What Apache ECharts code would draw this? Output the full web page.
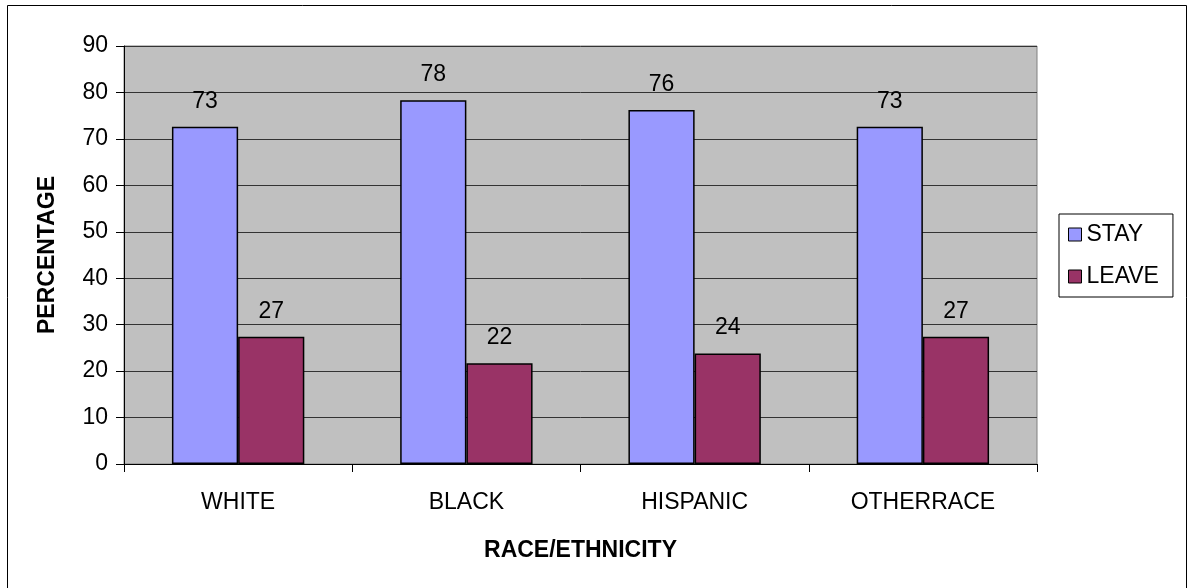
<!DOCTYPE html>
<html>
<head>
<meta charset="utf-8">
<script src="https://cdn.jsdelivr.net/npm/echarts@6/dist/echarts.min.js"></script>
<style>
html,body{margin:0;padding:0;background:#fff;}
#chart{width:1188px;height:588px;}
</style>
</head>
<body>
<div id="chart"></div>
<script>
var categories = ['WHITE', 'BLACK', 'HISPANIC', 'OTHERRACE'];
var stayValues = [72.6, 78.3, 76.2, 72.6];
var leaveValues = [27.4, 21.7, 23.8, 27.4];
var seriesNames = ['STAY', 'LEAVE'];
var yTicks = {min: 0, max: 90, interval: 10};

var FONT = '"Liberation Sans", Arial, sans-serif';
var chart = echarts.init(document.getElementById('chart'), null, {renderer: 'canvas'});

function labelCfg() {
  return {
    show: true,
    position: 'top',
    distance: 14,
    color: '#000',
    fontFamily: FONT,
    fontSize: 23,
    formatter: function (p) { return Math.round(p.value); }
  };
}

chart.setOption({
  backgroundColor: '#fff',
  animation: false,
  graphic: [{
    type: 'rect',
    shape: {x: 7.5, y: 5.5, width: 1179, height: 590},
    style: {fill: 'none', stroke: '#000', lineWidth: 1},
    silent: true
  }],
  grid: {
    left: 124, top: 46, right: 151, bottom: 124,
    show: true,
    backgroundColor: '#C0C0C0',
    borderColor: '#808080',
    borderWidth: 1
  },
  legend: {
    orient: 'vertical',
    left: 1059, top: 214,
    padding: [9, 14, 9, 9],
    itemGap: 19,
    itemWidth: 13, itemHeight: 13,
    icon: 'rect',
    borderColor: '#000', borderWidth: 1,
    backgroundColor: '#fff',
    textStyle: {fontFamily: FONT, fontSize: 23, color: '#000', lineHeight: 23, padding: [0, 0, 0, 0]},
    itemStyle: {borderColor: '#000', borderWidth: 1},
    data: seriesNames
  },
  xAxis: {
    type: 'category',
    data: categories,
    name: 'RACE/ETHNICITY',
    nameLocation: 'middle',
    nameGap: 75,
    nameTextStyle: {fontFamily: FONT, fontSize: 23, fontWeight: 'bold', color: '#000'},
    axisLine: {show: true, lineStyle: {color: '#000', width: 1}},
    axisTick: {show: true, length: 8, alignWithLabel: false, lineStyle: {color: '#000'}},
    axisLabel: {fontFamily: FONT, fontSize: 23, color: '#000', margin: 27},
    splitLine: {show: false}
  },
  yAxis: {
    type: 'value',
    min: yTicks.min, max: yTicks.max, interval: yTicks.interval,
    name: 'PERCENTAGE',
    nameLocation: 'middle',
    nameGap: 65,
    nameRotate: 90,
    nameTextStyle: {fontFamily: FONT, fontSize: 23, fontWeight: 'bold', color: '#000'},
    axisLine: {show: true, lineStyle: {color: '#000', width: 1}},
    axisTick: {show: true, length: 8, lineStyle: {color: '#000'}},
    axisLabel: {fontFamily: FONT, fontSize: 23, color: '#000', margin: 16},
    splitLine: {show: true, lineStyle: {color: '#333', width: 1}}
  },
  series: [
    {
      name: seriesNames[0],
      type: 'bar',
      data: stayValues,
      barGap: '0%',
      barCategoryGap: '42%',
      itemStyle: {color: '#9999FF', borderColor: '#000', borderWidth: 1.5},
      label: labelCfg()
    },
    {
      name: seriesNames[1],
      type: 'bar',
      data: leaveValues,
      barGap: '0%',
      barCategoryGap: '42%',
      itemStyle: {color: '#993366', borderColor: '#000', borderWidth: 1.5},
      label: labelCfg()
    }
  ]
});
</script>
</body>
</html>
